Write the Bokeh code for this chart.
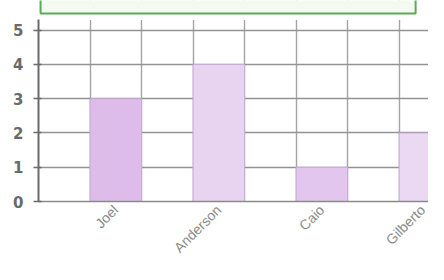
import math
from bokeh.plotting import figure
from bokeh.models import FixedTicker, Range1d
from bokeh.embed import file_html
from bokeh.resources import INLINE

names = ["Joel", "Anderson", "Caio", "Gilberto"]
values = [3, 4, 1, 2]
y_ticks = [0, 1, 2, 3, 4, 5]
bar_colors = ["#ddbcea", "#e8d3f1", "#e2c6ed", "#ebd8f3"]

# each name occupies two grid cells; the bar sits in the second one
centers = [2 * i + 1.5 for i in range(len(names))]

p = figure(width=428, height=264, output_backend="svg", toolbar_location=None,
           x_range=Range1d(0, 7.57), y_range=Range1d(0, 5.867),
           min_border_left=38, min_border_right=0, min_border_top=0, min_border_bottom=61)
p.outline_line_color = None
p.background_fill_color = "white"
p.border_fill_color = "white"

p.vbar(x=centers, top=values, width=1.0, bottom=0,
       fill_color=bar_colors, line_color="#c9abd8", line_width=1)

# blank strip above the grid, then the (cut off) title box
p.quad(left=[0.02], right=[8.0], bottom=[5.3], top=[5.49],
       fill_color="white", line_color=None)
p.quad(left=[0.04], right=[7.32], bottom=[5.49], top=[6.2],
       fill_color="#f3faef", line_color="#5ea85a", line_width=2)

p.xgrid.ticker = FixedTicker(ticks=list(range(0, 9)))
p.xgrid.grid_line_color = "#a4a4a4"
p.xgrid.grid_line_width = 1.4
p.ygrid.ticker = FixedTicker(ticks=y_ticks)
p.ygrid.grid_line_color = "#939393"
p.ygrid.grid_line_width = 1.4

p.yaxis.ticker = FixedTicker(ticks=y_ticks)
p.yaxis.bounds = (0, 5.3)
p.yaxis.axis_line_color = "#6a6a6a"
p.yaxis.axis_line_width = 2
p.yaxis.major_tick_line_color = "#6a6a6a"
p.yaxis.major_tick_line_width = 1.5
p.yaxis.major_tick_in = 3
p.yaxis.major_tick_out = 5
p.yaxis.minor_tick_line_color = None
p.yaxis.major_label_text_font = "DejaVu Sans"
p.yaxis.major_label_text_font_style = "bold"
p.yaxis.major_label_text_font_size = "15px"
p.yaxis.major_label_text_color = "#6a6a6a"
p.yaxis.major_label_standoff = 10

p.xaxis.ticker = FixedTicker(ticks=centers)
p.xaxis.major_label_overrides = {c: n for c, n in zip(centers, names)}
p.xaxis.major_label_orientation = math.pi / 4
p.xaxis.axis_line_color = "#8a8a8a"
p.xaxis.axis_line_width = 1.5
p.xaxis.major_tick_line_color = None
p.xaxis.minor_tick_line_color = None
p.xaxis.major_tick_in = 0
p.xaxis.major_tick_out = 0
p.xaxis.major_label_text_font = "Liberation Sans"
p.xaxis.major_label_text_font_size = "14px"
p.xaxis.major_label_text_color = "#8a8a8a"
p.xaxis.major_label_standoff = 6

open("out.html", "w").write(file_html(p, INLINE))
